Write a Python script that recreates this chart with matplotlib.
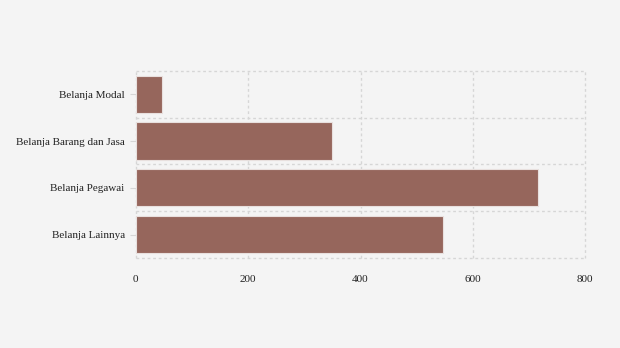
import numpy as np
import matplotlib.pyplot as plt

kategori = ['Belanja Modal', 'Belanja Barang dan Jasa', 'Belanja Pegawai', 'Belanja Lainnya']
nilai = [47, 349, 715, 547]
xticks = [0, 200, 400, 600, 800]

plt.rcParams['font.family'] = ['Liberation Serif', 'DejaVu Serif']

fig = plt.figure(figsize=(6.2, 3.48), dpi=100, facecolor='#f4f4f4')
ax = fig.add_axes([0.219, 0.259, 0.725, 0.537])
ax.set_facecolor('#f4f4f4')

y = np.arange(len(kategori))
ax.barh(y, nilai, height=0.8, color='#96665c', edgecolor='#e8e0de', linewidth=0.8, zorder=3)

ax.set_xlim(0, 800)
ax.set_ylim(len(kategori) - 0.5, -0.5)
ax.set_xticks(xticks)
ax.set_xticklabels([str(v) for v in xticks])
ax.set_yticks(y)
ax.set_yticklabels(kategori)
ax.set_yticks(np.arange(-0.5, len(kategori), 1), minor=True)

for s in ax.spines.values():
    s.set_visible(False)

ax.grid(axis='x', which='major', color='#d6d6d6', linestyle=(0, (2, 2)), linewidth=1, zorder=0)
ax.grid(axis='y', which='minor', color='#d6d6d6', linestyle=(0, (2, 2)), linewidth=1, zorder=0)
for t in ax.xaxis.get_major_ticks() + ax.yaxis.get_minor_ticks():
    t.gridline.set_clip_on(False)
ax.tick_params(axis='x', length=0, pad=12, labelsize=8, colors='#222222')
ax.tick_params(axis='y', which='major', length=4, color='#d6d6d6', pad=4, labelsize=8, labelcolor='#222222')
ax.tick_params(axis='y', which='minor', length=0)

fig.savefig('out.png', dpi=100, facecolor=fig.get_facecolor())
